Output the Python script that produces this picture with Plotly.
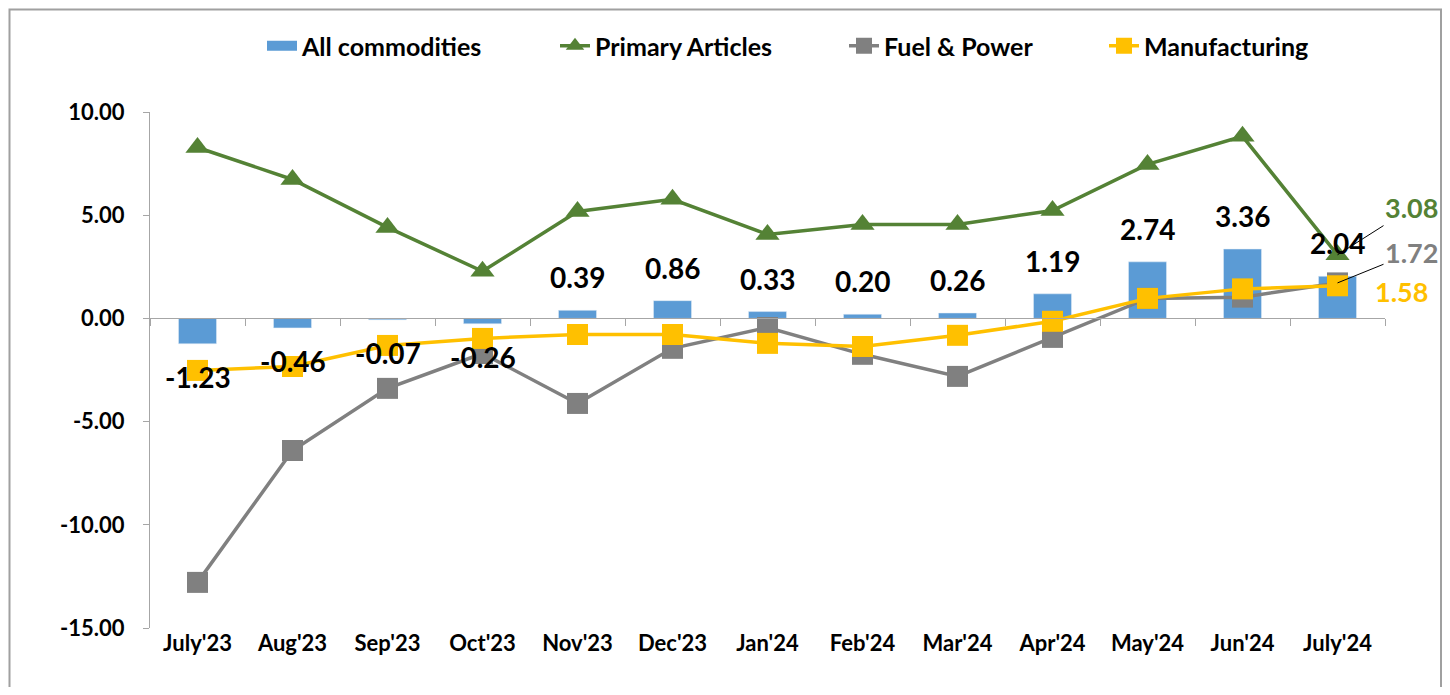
import plotly.graph_objects as go

categories = ["July'23", "Aug'23", "Sep'23", "Oct'23", "Nov'23", "Dec'23", "Jan'24",
              "Feb'24", "Mar'24", "Apr'24", "May'24", "Jun'24", "July'24"]
all_commodities = [-1.23, -0.46, -0.07, -0.26, 0.39, 0.86, 0.33, 0.20, 0.26, 1.19, 2.74, 3.36, 2.04]
primary_articles = [8.28, 6.73, 4.41, 2.28, 5.18, 5.77, 4.07, 4.55, 4.55, 5.23, 7.46, 8.82, 3.08]
fuel_power = [-12.79, -6.40, -3.39, -1.70, -4.12, -1.45, -0.44, -1.74, -2.81, -0.92, 0.97, 1.03, 1.72]
manufacturing = [-2.52, -2.33, -1.31, -0.97, -0.78, -0.78, -1.21, -1.36, -0.82, -0.14, 0.97, 1.43, 1.58]
y_ticks = [-15, -10, -5, 0, 5, 10]
y_tick_labels = ["-15.00", "-10.00", "-5.00", "0.00", "5.00", "10.00"]

FONT = "Lato"
BLUE = "#5B9BD5"
GREEN = "#548235"
GRAY = "#808080"
GOLD = "#FFC000"
AXIS = "#A6A6A6"

# figure geometry (page has 8px body offset)
FIG_W, FIG_H = 1434, 679
ML, MR, MT, MB = 142, 57, 104, 59
PLOT_W = FIG_W - ML - MR
PLOT_H = FIG_H - MT - MB


def px_x(page_x):
    return (page_x - 8 - ML) / PLOT_W


def px_y(page_y):
    return 1 + (MT - (page_y - 8)) / PLOT_H


fig = go.Figure()
fig.add_trace(go.Bar(x=categories, y=all_commodities, name="All commodities",
                     marker=dict(color=BLUE), width=0.4, showlegend=False,
                     legendgroup="all"))
# legend swatch for the bars (wide block, as in the original)
fig.add_trace(go.Scatter(x=[None], y=[None], name="All commodities", mode="lines",
                         line=dict(color=BLUE, width=16), legendgroup="all",
                         legend="legend", hoverinfo="skip"))
fig.add_trace(go.Scatter(x=categories, y=primary_articles, name="Primary Articles",
                         mode="lines+markers", line=dict(color=GREEN, width=3.5),
                         marker=dict(symbol="triangle-up", size=21, color=GREEN),
                         legend="legend2"))
fig.add_trace(go.Scatter(x=categories, y=fuel_power, name="Fuel & Power",
                         mode="lines+markers", line=dict(color=GRAY, width=3.5),
                         marker=dict(symbol="square", size=21, color=GRAY),
                         legend="legend3"))
fig.add_trace(go.Scatter(x=categories, y=manufacturing, name="Manufacturing",
                         mode="lines+markers", line=dict(color=GOLD, width=3.5),
                         marker=dict(symbol="square", size=21, color=GOLD),
                         legend="legend4"))
# invisible trace for the bottom tick-label axis
fig.add_trace(go.Scatter(x=categories, y=all_commodities, xaxis="x2", mode="markers",
                         marker=dict(opacity=0), showlegend=False, hoverinfo="skip"))

ann = []
for c, v in zip(categories, all_commodities):
    ann.append(dict(x=c, y=v, xref="x", yref="y", text=f"{v:.2f}", showarrow=False,
                    yshift=33 if v >= 0 else -33,
                    font=dict(family=FONT, size=28, color="black", weight="bold")))

last = categories[-1]
ann.append(dict(x=last, y=primary_articles[-1], xref="x", yref="y", text=f"{primary_articles[-1]:.2f}",
                showarrow=True, ax=74, ay=-47, arrowhead=0, arrowwidth=1, arrowcolor="black",
                standoff=0, font=dict(family=FONT, size=27, color=GREEN, weight="bold")))
ann.append(dict(x=last, y=fuel_power[-1], xref="x", yref="y", text=f"{fuel_power[-1]:.2f}",
                showarrow=True, ax=74, ay=-30, arrowhead=0, arrowwidth=1, arrowcolor="black",
                standoff=0, font=dict(family=FONT, size=27, color=GRAY, weight="bold")))
ann.append(dict(x=last, y=manufacturing[-1], xref="x", yref="y", text=f"{manufacturing[-1]:.2f}",
                showarrow=False, xshift=64, yshift=-6,
                font=dict(family=FONT, size=27, color=GOLD, weight="bold")))

legend_font = dict(family=FONT, size=25, color="black", weight="bold")


def legend_at(text_start_page_x):
    return dict(orientation="h", x=px_x(text_start_page_x - 41), xanchor="left",
                y=px_y(46), yanchor="middle", font=legend_font, itemwidth=30,
                bgcolor="rgba(0,0,0,0)")


fig.update_layout(
    width=FIG_W, height=FIG_H,
    margin=dict(l=ML, r=MR, t=MT, b=MB),
    paper_bgcolor="white", plot_bgcolor="white",
    font=dict(family=FONT, color="black"),
    barmode="overlay",
    showlegend=True,
    legend=legend_at(303),
    legend2=legend_at(596),
    legend3=legend_at(885),
    legend4=legend_at(1145),
    xaxis=dict(type="category", categoryorder="array", categoryarray=categories,
               range=[-0.5, len(categories) - 0.5], anchor="free", position=15 / 25,
               showline=True, linecolor=AXIS, linewidth=1,
               ticks="outside", tickson="boundaries", ticklen=7, tickcolor=AXIS,
               showticklabels=False, showgrid=False, zeroline=False),
    xaxis2=dict(type="category", categoryorder="array", categoryarray=categories,
                range=[-0.5, len(categories) - 0.5], overlaying="x", anchor="y", side="bottom",
                showline=False, ticks="", showgrid=False, zeroline=False,
                tickfont=dict(family=FONT, size=22, color="black", weight="bold")),
    yaxis=dict(range=[-15, 10], tickvals=y_ticks, ticktext=y_tick_labels,
               showline=True, linecolor=AXIS, linewidth=1, ticks="outside", ticklen=6,
               tickcolor=AXIS, showgrid=False, zeroline=False, ticklabelstandoff=14,
               tickfont=dict(family=FONT, size=22, color="black", weight="bold")),
    annotations=ann,
    shapes=[dict(type="rect", xref="paper", yref="paper",
                 x0=px_x(9.5), x1=px_x(1441), y0=px_y(720), y1=px_y(9.5),
                 line=dict(color="#A0A0A0", width=2), layer="below")],
)

fig.write_html("out.html")
